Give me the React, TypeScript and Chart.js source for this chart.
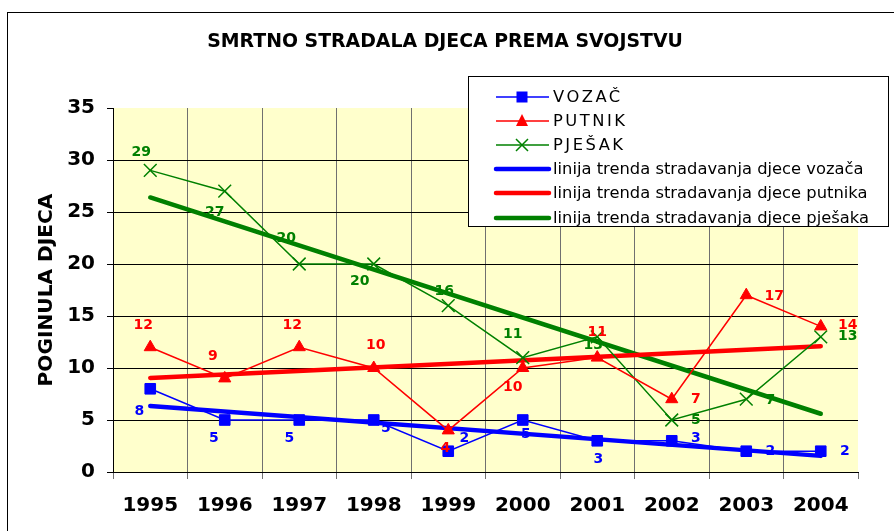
import React, { useEffect, useRef } from "react";
import { Chart, registerables } from "chart.js";

Chart.register(...registerables);

// ---------- data ----------
const years = ["1995", "1996", "1997", "1998", "1999", "2000", "2001", "2002", "2003", "2004"];
const vozac = [8, 5, 5, 5, 2, 5, 3, 3, 2, 2];
const putnik = [12, 9, 12, 10, 4, 10, 11, 7, 17, 14];
const pjesak = [29, 27, 20, 20, 16, 11, 13, 5, 7, 13];
// trend lines (start and end values, straight line between)
const vozacTrend = [6.35, null, null, null, null, null, null, null, null, 1.55];
const putnikTrend = [9.05, null, null, null, null, null, null, null, null, 12.1];
const pjesakTrend = [26.4, null, null, null, null, null, null, null, null, 5.6];
const yTicks = [0, 5, 10, 15, 20, 25, 30, 35];

const titleText = "SMRTNO STRADALA DJECA PREMA SVOJSTVU";
const yTitleText = "POGINULA DJECA";
const seriesNames = ["VOZAČ", "PUTNIK", "PJEŠAK"];
const trendNames = [
  "linija trenda stradavanja djece vozača",
  "linija trenda stradavanja djece putnika",
  "linija trenda stradavanja djece pješaka",
];

// ---------- style ----------
const BLUE = "#0000FF";
const RED = "#FF0000";
const GREEN = "#008000";
const PLOT_BG = "#FFFFCC";
const FONT = "'DejaVu Sans', Verdana, sans-serif";

// data-label offsets (dx, dy) relative to each point
const vozacLabelOffsets: [number, number][] = [
  [-11, 23], [-11, 18], [-10, 18], [12, 8], [16, -13], [3, 14], [1, 19], [24, -2], [24, 0], [24, 0],
];
const putnikLabelOffsets: [number, number][] = [
  [-7, -22], [-12, -22], [-7, -22], [2, -23], [-3, 18], [-10, 19], [0, -25], [24, 0], [28, 1], [27, -1],
];
const pjesakLabelOffsets: [number, number][] = [
  [-9, -18], [-10, 21], [-13, -26], [-14, 17], [-4, -14], [-10, -23], [-4, 9], [24, 0], [24, 1], [27, 0],
];
const labelOffsets = [vozacLabelOffsets, putnikLabelOffsets, pjesakLabelOffsets];

function fitSize(ctx: CanvasRenderingContext2D, text: string, weight: string, target: number) {
  ctx.font = `${weight} 20px ${FONT}`;
  const w = ctx.measureText(text).width;
  return (20 * target) / w;
}

const decorPlugin = {
  id: "decor",
  beforeDraw(chart: any) {
    const ctx: CanvasRenderingContext2D = chart.ctx;
    const a = chart.chartArea;
    ctx.save();
    ctx.fillStyle = "#FFFFFF";
    ctx.fillRect(0, 0, chart.width, chart.height);
    ctx.strokeStyle = "#000";
    ctx.lineWidth = 1;
    ctx.strokeRect(7.5, 12.5, chart.width + 20, chart.height + 20);
    ctx.fillStyle = PLOT_BG;
    ctx.fillRect(a.left, a.top, a.right - a.left, a.bottom - a.top);
    ctx.restore();
  },
  afterDatasetsDraw(chart: any) {
    const ctx: CanvasRenderingContext2D = chart.ctx;
    ctx.save();
    ctx.font = `bold 14px ${FONT}`;
    ctx.textAlign = "center";
    ctx.textBaseline = "middle";
    for (let i = 0; i < 3; i++) {
      const ds = chart.data.datasets[i];
      const meta = chart.getDatasetMeta(i);
      ctx.fillStyle = ds.borderColor;
      meta.data.forEach((pt: any, j: number) => {
        const off = labelOffsets[i][j];
        ctx.fillText(String(ds.data[j]), pt.x + off[0], pt.y + off[1]);
      });
    }
    ctx.restore();
  },
  afterDraw(chart: any) {
    const ctx: CanvasRenderingContext2D = chart.ctx;
    ctx.save();
    // title
    const ts = fitSize(ctx, titleText, "bold", 476);
    ctx.font = `bold ${ts}px ${FONT}`;
    ctx.fillStyle = "#000";
    ctx.textAlign = "center";
    ctx.textBaseline = "middle";
    ctx.fillText(titleText, 445, 42);
    // y title
    const ys = fitSize(ctx, yTitleText, "bold", 193);
    ctx.save();
    ctx.translate(47, 290);
    ctx.rotate(-Math.PI / 2);
    ctx.font = `bold ${ys}px ${FONT}`;
    ctx.fillText(yTitleText, 0, 0);
    ctx.restore();

    // legend
    const bx = 468.5, by = 76.5, bw = 420, bh = 150;
    ctx.fillStyle = "#FFFFFF";
    ctx.fillRect(bx, by, bw, bh);
    ctx.strokeStyle = "#000";
    ctx.lineWidth = 1;
    ctx.strokeRect(bx, by, bw, bh);
    const rows = [97, 121, 145, 169, 193, 218];
    const order = [0, 1, 2, 3, 4, 5];
    const ls = fitSize(ctx, trendNames[2], "normal", 316);
    order.forEach((di, r) => {
      const ds = chart.data.datasets[di];
      const cy = rows[r];
      const x0 = 496, x1 = 549, cx = 522;
      ctx.strokeStyle = ds.borderColor;
      ctx.lineWidth = ds.borderWidth;
      ctx.lineCap = di >= 3 ? "round" : "butt";
      ctx.beginPath();
      ctx.moveTo(x0, cy);
      ctx.lineTo(x1, cy);
      ctx.stroke();
      ctx.lineCap = "butt";
      if (ds.pointStyle === "rect") {
        ctx.fillStyle = ds.borderColor;
        ctx.fillRect(cx - 5.5, cy - 5.5, 11, 11);
      } else if (ds.pointStyle === "triangle") {
        ctx.fillStyle = ds.borderColor;
        ctx.beginPath();
        ctx.moveTo(cx, cy - 7);
        ctx.lineTo(cx + 6, cy + 5);
        ctx.lineTo(cx - 6, cy + 5);
        ctx.closePath();
        ctx.fill();
      } else if (ds.pointStyle === "crossRot") {
        ctx.lineWidth = 1.5;
        ctx.beginPath();
        ctx.moveTo(cx - 6, cy - 6);
        ctx.lineTo(cx + 6, cy + 6);
        ctx.moveTo(cx + 6, cy - 6);
        ctx.lineTo(cx - 6, cy + 6);
        ctx.stroke();
      }
      ctx.fillStyle = "#000";
      ctx.textAlign = "left";
      ctx.textBaseline = "middle";
      ctx.font = `normal ${ls}px ${FONT}`;
      (ctx as any).letterSpacing = di < 3 ? "2.5px" : "0px";
      ctx.fillText(ds.label, 553, cy + 1);
      (ctx as any).letterSpacing = "0px";
    });
    ctx.restore();
  },
};

export default function App() {
  const ref = useRef<HTMLCanvasElement | null>(null);
  useEffect(() => {
    if (!ref.current) return;
    const chart = new Chart(ref.current, {
      type: "line",
      data: {
        labels: years,
        datasets: [
          {
            label: seriesNames[0], data: vozac, borderColor: BLUE, backgroundColor: BLUE,
            borderWidth: 1.5, pointStyle: "rect", pointRadius: 7.5, pointBorderWidth: 1,
            pointBackgroundColor: BLUE, pointBorderColor: BLUE, order: 1, tension: 0,
          },
          {
            label: seriesNames[1], data: putnik, borderColor: RED, backgroundColor: RED,
            borderWidth: 1.5, pointStyle: "triangle", pointRadius: 7, pointBorderWidth: 1,
            pointBackgroundColor: RED, pointBorderColor: RED, order: 1, tension: 0,
          },
          {
            label: seriesNames[2], data: pjesak, borderColor: GREEN, backgroundColor: GREEN,
            borderWidth: 1.5, pointStyle: "crossRot", pointRadius: 9, pointBorderWidth: 1.5,
            pointBorderColor: GREEN, order: 1, tension: 0,
          },
          {
            label: trendNames[0], data: vozacTrend, borderColor: BLUE, borderWidth: 4.5,
            pointRadius: 0, spanGaps: true, order: 2, borderCapStyle: "round",
          },
          {
            label: trendNames[1], data: putnikTrend, borderColor: RED, borderWidth: 4.5,
            pointRadius: 0, spanGaps: true, order: 2, borderCapStyle: "round",
          },
          {
            label: trendNames[2], data: pjesakTrend, borderColor: GREEN, borderWidth: 4.5,
            pointRadius: 0, spanGaps: true, order: 2, borderCapStyle: "round",
          },
        ] as any,
      },
      options: {
        animation: false,
        responsive: false,
        devicePixelRatio: 1,
        events: [],
        layout: { padding: { top: 108, right: 36, left: 0, bottom: 0 } },
        plugins: { legend: { display: false }, title: { display: false }, tooltip: { enabled: false } },
        scales: {
          x: {
            type: "category",
            offset: true,
            grid: {
              offset: true,
              color: (c: any) => (c.type === "tick" && c.index > 0 ? "#707070" : "rgba(0,0,0,0)"),
              tickColor: "#707070",
              tickLength: 7,
              lineWidth: 1,
            },
            border: { color: "#000", width: 1 },
            ticks: {
              font: { family: FONT, size: 20, weight: "bold" },
              color: "#000",
              padding: 15,
              maxRotation: 0,
              autoSkip: false,
            },
            afterFit: (s: any) => { s.height = 59; },
          },
          y: {
            min: 0,
            max: 35,
            afterBuildTicks: (s: any) => { s.ticks = yTicks.map((v) => ({ value: v })); },
            grid: {
              color: (c: any) => (c.tick && c.tick.value === 35 ? "rgba(0,0,0,0)" : "#000"),
              tickColor: "#000",
              tickLength: 6,
              lineWidth: 1,
            },
            border: { color: "#000", width: 1 },
            ticks: {
              font: { family: FONT, size: 20, weight: "bold" },
              color: "#000",
              padding: 12,
            },
            afterFit: (s: any) => { s.width = 113; },
          },
        },
      } as any,
      plugins: [decorPlugin],
    });
    return () => chart.destroy();
  }, []);
  return (
    <div style={{ position: "fixed", left: 0, top: 0, width: 894, height: 531, background: "#fff" }}>
      <canvas ref={ref} width={894} height={531} style={{ display: "block" }} />
    </div>
  );
}
